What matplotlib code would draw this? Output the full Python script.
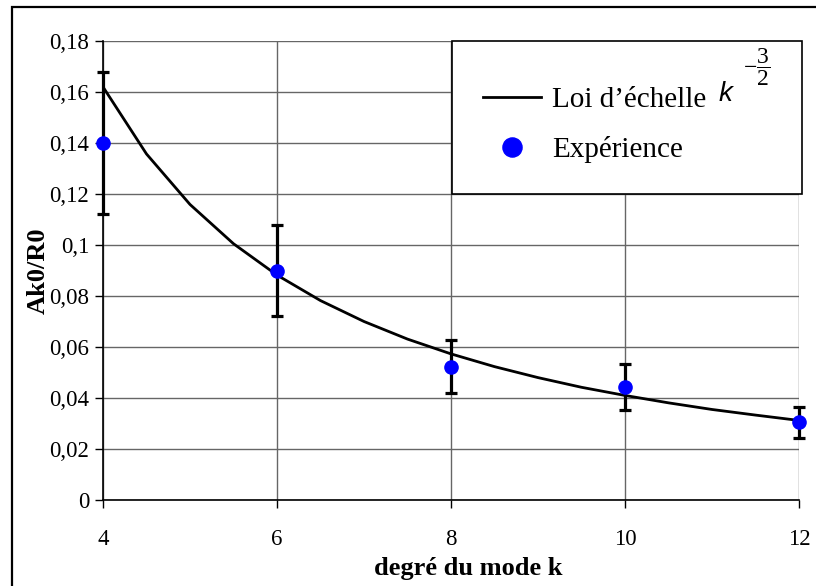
import matplotlib
matplotlib.use("Agg")
import matplotlib.pyplot as plt
from matplotlib.patches import Rectangle

# ---- data ----
k_exp = [4, 6, 8, 10, 12]
a_exp = [0.140, 0.090, 0.0523, 0.0443, 0.0307]
err_low = [0.028, 0.018, 0.0103, 0.0090, 0.0064]
err_high = [0.028, 0.018, 0.0104, 0.0090, 0.0058]

k_law = [4, 4.5, 5, 5.5, 6, 6.5, 7, 7.5, 8, 8.5, 9, 9.5, 10, 10.5, 11, 11.5, 12]
a_law = [0.162, 0.1357, 0.1159, 0.1005, 0.0882, 0.0782, 0.0700, 0.0631, 0.0573,
         0.0523, 0.0480, 0.0442, 0.0410, 0.0381, 0.0355, 0.0333, 0.0312]

x_ticks = [4, 6, 8, 10, 12]
y_ticks = [0, 0.02, 0.04, 0.06, 0.08, 0.1, 0.12, 0.14, 0.16, 0.18]
y_tick_labels = ["0", "0,02", "0,04", "0,06", "0,08", "0,1", "0,12", "0,14", "0,16", "0,18"]

plt.rcParams['font.family'] = ['Liberation Serif', 'DejaVu Serif']
plt.rcParams['mathtext.fontset'] = 'custom'
plt.rcParams['mathtext.rm'] = 'Liberation Serif'
plt.rcParams['mathtext.it'] = 'Liberation Sans:italic'

W, H = 816, 586
fig = plt.figure(figsize=(W / 100, H / 100), dpi=100)
ax = fig.add_axes([103 / W, 1 - 500 / H, (799 - 103) / W, (500 - 41) / H])

# outer chart frame (left and top visible)
fig.patches.append(Rectangle((12 / W, -0.05), 1.2, (1 - 7 / H) + 0.05,
                             transform=fig.transFigure, fill=False,
                             edgecolor='black', linewidth=1.6, zorder=0))

ax.set_xlim(4, 12)
ax.set_ylim(0, 0.18)
ax.set_xticks(x_ticks)
ax.set_xticklabels([str(v) for v in x_ticks])
ax.set_yticks(y_ticks)
ax.set_yticklabels(y_tick_labels)
ax.grid(True, color='#666666', linewidth=1.0)
ax.set_axisbelow(True)
for s in ['top', 'right']:
    ax.spines[s].set_visible(False)
for s in ['left', 'bottom']:
    ax.spines[s].set_linewidth(1.2)
ax.tick_params(axis='both', direction='out', length=6, width=1.0,
               labelsize=16.5, colors='black')
ax.tick_params(axis='x', pad=15)
ax.tick_params(axis='y', pad=4)

ax.plot(k_law, a_law, color='black', linewidth=2.0, zorder=3,
        label='Loi d\u2019\u00e9chelle')
ax.errorbar(k_exp, a_exp, yerr=[err_low, err_high], fmt='none', ecolor='black',
            elinewidth=2.3, capsize=4, capthick=2.3, zorder=4, clip_on=False)
ax.plot(k_exp, a_exp, 'o', color='#0000ff', markersize=9.5, zorder=5,
        clip_on=False, label='Exp\u00e9rience')

ax.set_xlabel('degr\u00e9 du mode k', fontsize=19, fontweight='bold')
ax.set_ylabel('Ak0/R0', fontsize=19, fontweight='bold')
ax.xaxis.set_label_coords((468 - 103) / 696, -(557 - 500) / 459)
ax.yaxis.set_label_coords(-(103 - 50) / 696, 0.5)

# legend box
x0 = (452 - 103) / 696
x1 = (802 - 103) / 696
yb = (500 - 194) / 459
ax.add_patch(Rectangle((x0, yb), x1 - x0, 1 - yb, transform=ax.transAxes,
                       facecolor='white', edgecolor='black', linewidth=1.2,
                       zorder=6, clip_on=False))
leg = ax.legend(loc='center left', bbox_to_anchor=((483 - 103) / 696, (500 - 125) / 459),
                frameon=False, fontsize=21, handlelength=2.0, handletextpad=0.38,
                labelspacing=0.8, borderpad=0, borderaxespad=0, markerscale=1.45)
leg.set_zorder(7)

# scaling-law exponent in the legend label: k^(-3/2)
fig.text(719 / W, 1 - 101 / H, 'k', fontsize=20, family='Liberation Sans',
         style='italic', ha='left', va='baseline', zorder=8)
fig.text(743 / W, 1 - 67 / H, r'$-\dfrac{3}{2}$', fontsize=17,
         ha='left', va='center', zorder=8)

fig.savefig('out.png', dpi=100)
